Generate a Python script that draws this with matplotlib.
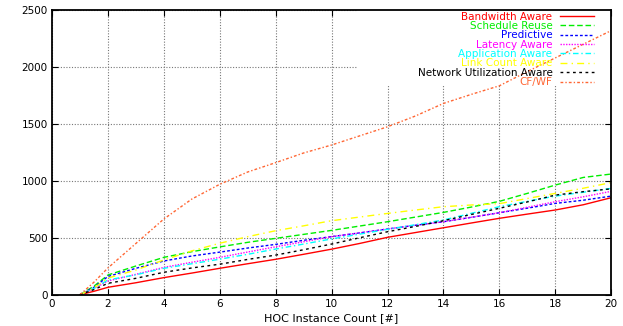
import numpy as np
import matplotlib
matplotlib.use("Agg")
import matplotlib.pyplot as plt
from matplotlib.patches import Rectangle

# Data (HOC instance count vs value)
x = [1, 1.5, 2, 3, 4, 5, 6, 7, 8, 9, 10, 11, 12, 13, 14, 15, 16, 17, 18, 19, 20]

bandwidth = [0, 30, 65, 105, 150, 190, 232, 272, 311, 355, 400, 450, 504, 546, 588, 630, 671, 708, 744, 790, 852]
schedule = [0, 75, 173, 252, 328, 378, 420, 460, 495, 530, 565, 603, 641, 682, 723, 770, 820, 890, 963, 1030, 1060]
predictive = [0, 65, 160, 232, 296, 340, 374, 410, 442, 478, 510, 543, 577, 610, 641, 680, 720, 760, 802, 830, 866]
latency = [0, 55, 120, 179, 240, 285, 328, 375, 421, 465, 510, 543, 577, 610, 641, 680, 720, 768, 817, 860, 908]
application = [0, 55, 130, 175, 232, 272, 312, 355, 401, 445, 490, 532, 574, 615, 656, 715, 773, 820, 866, 900, 934]
linkcount = [0, 60, 146, 217, 305, 385, 452, 510, 562, 605, 650, 682, 714, 744, 773, 788, 800, 845, 890, 935, 985]
netutil = [0, 45, 100, 144, 197, 235, 268, 310, 348, 395, 445, 500, 553, 600, 650, 705, 759, 815, 875, 905, 930]
cfwf = [0, 110, 235, 450, 665, 840, 970, 1078, 1160, 1245, 1315, 1395, 1475, 1570, 1680, 1760, 1835, 1960, 2080, 2200, 2320]

labels = ["Bandwidth Aware", "Schedule Reuse", "Predictive", "Latency Aware",
          "Application Aware", "Link Count Aware", "Network Utilization Aware", "CF/WF"]
series = [bandwidth, schedule, predictive, latency, application, linkcount, netutil, cfwf]
colors = ["#ff0000", "#00ee00", "#0000ff", "#ff00ff", "#00ffff", "#ffff00", "#000000", "#ff6633"]
dashes = [None, (4, 2), (2, 1.5), (1, 1), (4, 2, 1, 2), (5, 3, 1, 3), (2, 2.5), (2, 1.5, 1, 1.5)]

xticks = np.arange(0, 21, 2)
yticks = np.arange(0, 2501, 500)

plt.rcParams["font.family"] = "DejaVu Sans"

fig = plt.figure(figsize=(6.23, 3.26), dpi=100)
ax = fig.add_axes([0.0835, 0.096, 0.8975, 0.873])

# white box behind the key, like gnuplot does
ax.add_patch(Rectangle((0.546, 0.733), 0.454, 0.267, transform=ax.transAxes,
                       facecolor="white", edgecolor="none", zorder=1))

for ys, lab, c, d in zip(series, labels, colors, dashes):
    line, = ax.plot(x, ys, color=c, lw=1.0, label=lab, zorder=2)
    if d is not None:
        line.set_dashes(d)

ax.set_xlim(0, 20)
ax.set_ylim(0, 2500)
ax.set_xticks(xticks)
ax.set_yticks(yticks)
ax.grid(True, color="#777777", linestyle=(0, (1, 1.5)), lw=0.8, zorder=0)
ax.set_axisbelow(True)
ax.tick_params(direction="in", top=True, right=True, length=4, labelsize=7.5, pad=3)
for s in ax.spines.values():
    s.set_linewidth(1.3)

ax.set_xlabel("HOC Instance Count [#]", fontsize=8, labelpad=3)

leg = ax.legend(loc="upper right", bbox_to_anchor=(0.9696, 0.995), frameon=False,
                markerfirst=False, fontsize=7.5, handlelength=3.3, handletextpad=0.7,
                labelspacing=-0.06, borderpad=0, borderaxespad=0)
for t, c in zip(leg.get_texts(), colors):
    t.set_color(c)

fig.savefig("out.png", dpi=100)
